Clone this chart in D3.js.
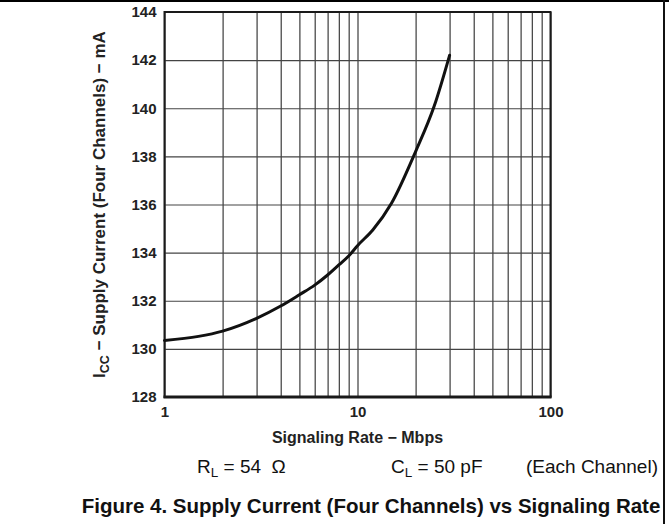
<!DOCTYPE html>
<html>
<head>
<meta charset="utf-8">
<script src="https://cdn.jsdelivr.net/npm/d3@7"></script>
<style>
  html, body { margin: 0; padding: 0; background: #fff; }
  svg { display: block; font-family: 'Liberation Sans', Arial, sans-serif; }
</style>
</head>
<body>
<svg id="chart" width="669" height="524"></svg>
<script>
const width = 669;
const height = 524;

// plot box
const plotLeft = 164.5;
const plotRight = 550.5;
const plotTop = 12;
const plotBottom = 397;

// data
const rate = [1, 1.5, 2, 3, 4, 5, 6, 7, 8, 9, 10, 12, 15, 20, 25, 30];
const icc = [130.35, 130.52, 130.74, 131.27, 131.78, 132.25, 132.65, 133.07, 133.49, 133.86, 134.29, 134.94, 136.05, 138.2, 140.1, 142.2];

const xTicks = [1, 10, 100];
const yTicks = [128, 130, 132, 134, 136, 138, 140, 142, 144];

const svg = d3.select('#chart');

const x = d3.scaleLog().domain([1, 100]).range([plotLeft, plotRight]);
const y = d3.scaleLinear().domain([128, 144]).range([plotBottom, plotTop]);

// page rules
svg.append('line')
  .attr('x1', 0).attr('x2', width).attr('y1', 1).attr('y2', 1)
  .attr('stroke', '#000').attr('stroke-width', 2);
svg.append('line')
  .attr('x1', 664).attr('x2', 664).attr('y1', 0).attr('y2', height)
  .attr('stroke', '#111').attr('stroke-width', 2);

// vertical grid (log decades)
const xGrid = svg.append('g')
  .attr('transform', `translate(0,${plotBottom})`)
  .call(d3.axisBottom(x).ticks(10).tickSize(-(plotBottom - plotTop)).tickFormat(''));
xGrid.select('.domain').remove();
xGrid.selectAll('line').attr('stroke', '#2a2a2a').attr('stroke-width', 1.1);

// horizontal grid
const yGrid = svg.append('g')
  .attr('transform', `translate(${plotLeft},0)`)
  .call(d3.axisLeft(y).tickValues(yTicks).tickSize(-(plotRight - plotLeft)).tickFormat(''));
yGrid.select('.domain').remove();
yGrid.selectAll('line').attr('stroke', '#444').attr('stroke-width', 1.1);

// frame
svg.append('rect')
  .attr('x', plotLeft).attr('y', plotTop)
  .attr('width', plotRight - plotLeft).attr('height', plotBottom - plotTop)
  .attr('fill', 'none').attr('stroke', '#1a1a1a').attr('stroke-width', 2);
svg.append('line')
  .attr('x1', plotLeft - 1).attr('x2', plotRight + 1).attr('y1', plotBottom).attr('y2', plotBottom)
  .attr('stroke', '#1a1a1a').attr('stroke-width', 3);

// tick labels
const xAxis = svg.append('g')
  .attr('transform', `translate(0,${plotBottom})`)
  .call(d3.axisBottom(x).tickValues(xTicks).tickSize(0).tickPadding(9).tickFormat(d3.format('d')));
xAxis.select('.domain').remove();
xAxis.selectAll('text')
  .attr('font-family', "'Liberation Sans', Arial, sans-serif")
  .attr('font-size', 15).attr('font-weight', 'bold').attr('fill', '#222');

const yAxis = svg.append('g')
  .attr('transform', `translate(${plotLeft},0)`)
  .call(d3.axisLeft(y).tickValues(yTicks).tickSize(0).tickPadding(8).tickFormat(d3.format('d')));
yAxis.select('.domain').remove();
yAxis.selectAll('text')
  .attr('font-family', "'Liberation Sans', Arial, sans-serif")
  .attr('font-size', 15).attr('font-weight', 'bold').attr('fill', '#222');

// curve
const line = d3.line()
  .x((d, i) => x(rate[i]))
  .y(d => y(d))
  .curve(d3.curveMonotoneX);

svg.append('path')
  .datum(icc)
  .attr('d', line)
  .attr('fill', 'none')
  .attr('stroke', '#111')
  .attr('stroke-width', 3)
  .attr('stroke-linecap', 'round');

// axis titles
svg.append('text')
  .attr('x', x(10)).attr('y', 443)
  .attr('text-anchor', 'middle')
  .attr('font-size', 16).attr('font-weight', 'bold').attr('fill', '#222')
  .text('Signaling Rate − Mbps');

const yTitle = svg.append('text')
  .attr('transform', `translate(105,${(plotTop + plotBottom) / 2}) rotate(-90)`)
  .attr('text-anchor', 'middle')
  .attr('font-size', 17).attr('font-weight', 'bold').attr('fill', '#222');
yTitle.append('tspan').text('I');
yTitle.append('tspan').attr('font-size', 12.5).attr('dy', 3.5).text('CC');
yTitle.append('tspan').attr('dy', -3.5).text(' − Supply Current (Four Channels) − mA');

// test conditions
const cond = svg.append('g')
  .attr('font-size', 19).attr('fill', '#111');

const rl = cond.append('text').attr('x', 197).attr('y', 473);
rl.append('tspan').text('R');
rl.append('tspan').attr('font-size', 13.5).attr('dy', 4).text('L');
rl.append('tspan').attr('dy', -4).text(' = 54 \u00a0Ω');

const cl = cond.append('text').attr('x', 391).attr('y', 473);
cl.append('tspan').text('C');
cl.append('tspan').attr('font-size', 13.5).attr('dy', 4).text('L');
cl.append('tspan').attr('dy', -4).text(' = 50 pF');

cond.append('text')
  .attr('x', 658).attr('y', 473)
  .attr('text-anchor', 'end')
  .text('(Each Channel)');

// figure caption
svg.append('text')
  .attr('x', 371).attr('y', 513)
  .attr('text-anchor', 'middle')
  .attr('font-size', 20.5).attr('font-weight', 'bold').attr('fill', '#111')
  .text('Figure 4. Supply Current (Four Channels) vs Signaling Rate');
</script>
</body>
</html>
